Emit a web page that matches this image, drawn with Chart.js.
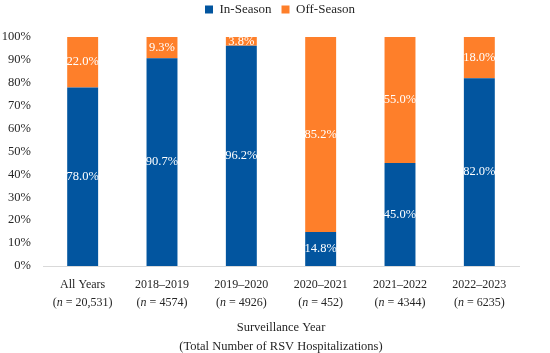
<!DOCTYPE html>
<html><head><meta charset="utf-8">
<script src="https://cdn.jsdelivr.net/npm/chart.js@4.4.1/dist/chart.umd.min.js"></script>
<style>html,body{margin:0;padding:0;background:#fff}#wrap{width:550px;height:353px}</style>
</head><body><div id="wrap"><canvas id="c"></canvas></div>
<script>
const categories = ["All Years","2018–2019","2019–2020","2020–2021","2021–2022","2022–2023"];
const totals = ["20,531","4574","4926","452","4344","6235"];
const inSeason = [78.0, 90.7, 96.2, 14.8, 45.0, 82.0];
const offSeason = [22.0, 9.3, 3.8, 85.2, 55.0, 18.0];
const yTicks = [0,10,20,30,40,50,60,70,80,90,100];

const SERIF = "'Liberation Serif', 'DejaVu Serif', serif";
const TEXT = '#262626';

const labelPlugin = {
  id: 'segLabels',
  afterDatasetsDraw(chart) {
    const ctx = chart.ctx;
    ctx.save();
    ctx.font = "12.5px " + SERIF;
    ctx.fillStyle = "#ffffff";
    ctx.textAlign = "center";
    ctx.textBaseline = "middle";
    chart.data.datasets.forEach((ds, di) => {
      const meta = chart.getDatasetMeta(di);
      meta.data.forEach((bar, i) => {
        const p = bar.getProps(['x','y','base'], true);
        const cy = (p.y + p.base) / 2;
        ctx.fillText(ds.data[i].toFixed(1) + "%", p.x, cy);
      });
    });
    ctx.restore();
  }
};

const nPlugin = {
  id: 'nLabels',
  afterDraw(chart) {
    const ctx = chart.ctx;
    const xs = chart.scales.x;
    ctx.save();
    ctx.fillStyle = TEXT;
    ctx.textBaseline = "middle";
    const y = xs.top + 37;
    totals.forEach((t, i) => {
      const x = xs.getPixelForTick(i);
      const parts = [["(", "12px " + SERIF], ["n", "italic 12px " + SERIF], [" = " + t + ")", "12px " + SERIF]];
      let w = 0;
      parts.forEach(p => { ctx.font = p[1]; w += ctx.measureText(p[0]).width; });
      let cx = x - w / 2;
      ctx.textAlign = "left";
      parts.forEach(p => { ctx.font = p[1]; ctx.fillText(p[0], cx, y); cx += ctx.measureText(p[0]).width; });
    });
    ctx.restore();
  }
};

const legendFitPlugin = {
  id: 'legendFit',
  beforeInit(chart) {
    const lg = chart.legend;
    const origFit = lg.fit;
    lg.fit = function () { origFit.call(this); this.height += 4; };
    const origDraw = lg.draw;
    lg.draw = function () {
      this.left += 5; this.right += 5; this.top -= 7; this.bottom -= 7;
      origDraw.call(this);
      this.left -= 5; this.right -= 5; this.top += 7; this.bottom += 7;
    };
  }
};

new Chart(document.getElementById('c'), {
  type: 'bar',
  data: {
    labels: categories,
    datasets: [
      { label: 'In-Season', data: inSeason, backgroundColor: '#02559F', borderWidth: 0 },
      { label: 'Off-Season', data: offSeason, backgroundColor: '#FE7F2A', borderWidth: 0 }
    ]
  },
  options: {
    responsive: true,
    maintainAspectRatio: false,
    animation: false,
    layout: { padding: 0 },
    datasets: { bar: { barPercentage: 0.39, categoryPercentage: 1.0 } },
    plugins: {
      legend: {
        position: 'top',
        labels: { boxWidth: 8, boxHeight: 8, font: { family: SERIF, size: 13 }, color: TEXT, padding: 10 }
      },
      tooltip: { enabled: false }
    },
    scales: {
      x: {
        stacked: true,
        afterFit: (s) => { s.height = 87; },
        grid: { display: false, drawTicks: false },
        border: { color: '#d9d9d9', width: 1 },
        ticks: {
          font: { family: SERIF, size: 12, lineHeight: 1.5 }, color: TEXT, padding: 10,
          maxRotation: 0, autoSkip: false,
          callback: (v, i) => [categories[i], ' ']
        },
        title: {
          display: true,
          text: ['Surveillance Year', '(Total Number of RSV Hospitalizations)'],
          font: { family: SERIF, size: 12.5, lineHeight: 1.5 }, color: TEXT, padding: { top: 0, bottom: -3 }
        }
      },
      y: {
        stacked: true,
        min: 0, max: 100,
        afterBuildTicks: (s) => { s.ticks = yTicks.map(v => ({ value: v })); },
        afterFit: (s) => { s.width = 43; },
        grid: { display: false, drawTicks: false },
        border: { display: false },
        ticks: { font: { family: SERIF, size: 12.5 }, color: TEXT, padding: 12, callback: v => v + '%' }
      },
      yR: {
        position: 'right',
        display: true,
        afterFit: (s) => { s.width = 31; },
        grid: { display: false, drawTicks: false },
        border: { display: false },
        ticks: { display: false }
      }
    }
  },
  plugins: [labelPlugin, nPlugin, legendFitPlugin]
});
</script></body></html>
